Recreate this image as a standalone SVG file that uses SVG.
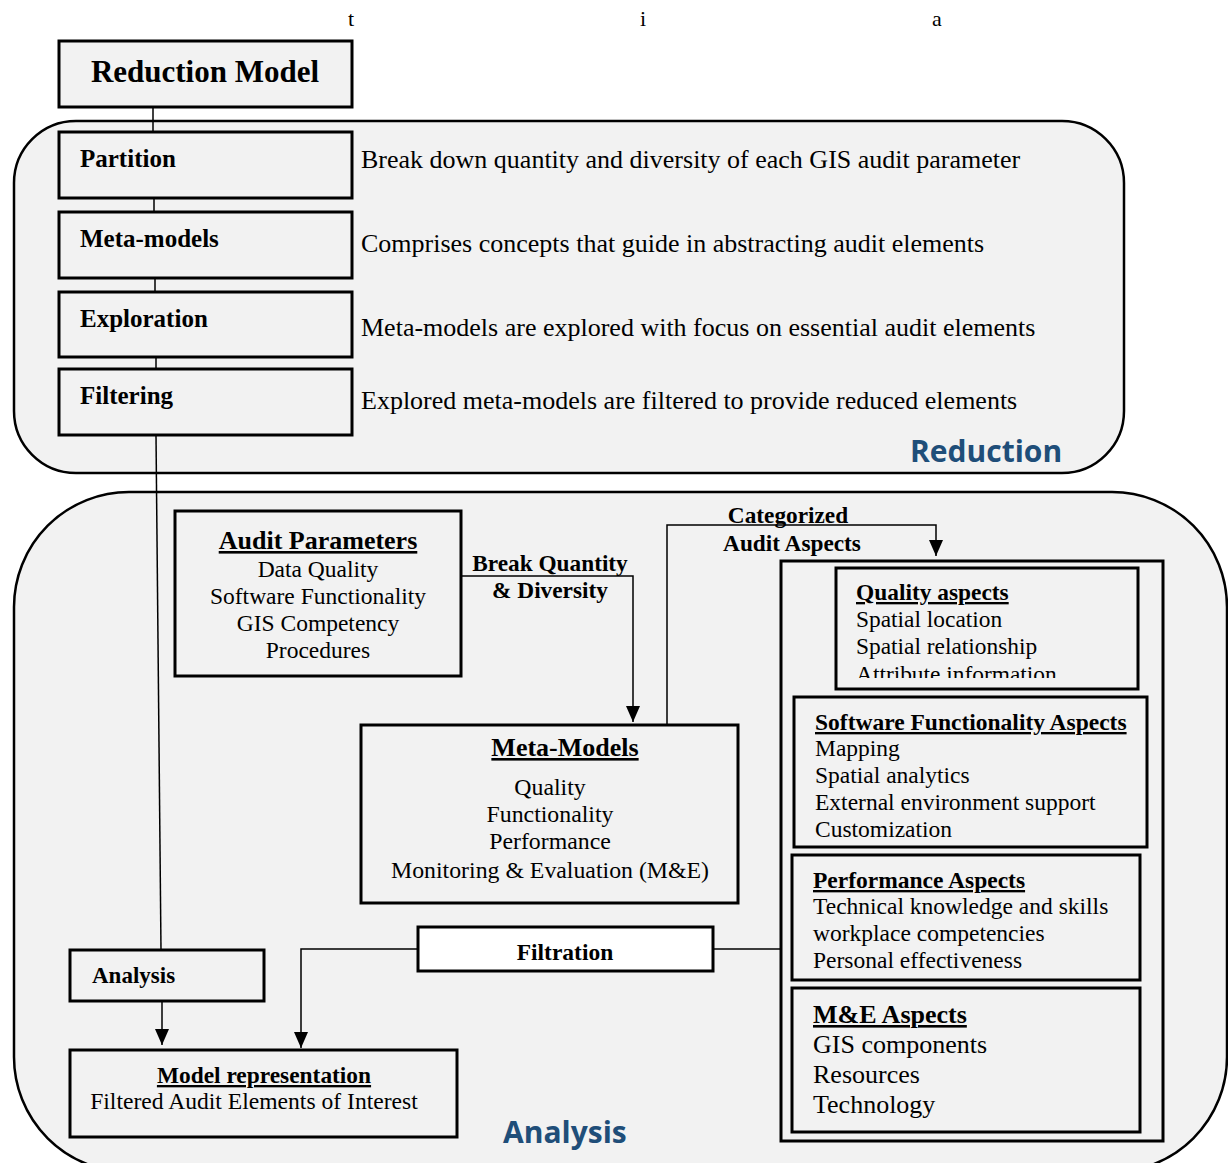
<svg xmlns="http://www.w3.org/2000/svg" width="1228" height="1163" viewBox="0 0 1228 1163">
<style>
.bg{fill:#f2f2f2;stroke:#000;stroke-width:2.5}
.box{fill:#f2f2f2;stroke:#000;stroke-width:3}
.wbox{fill:#fff;stroke:#000;stroke-width:3}
.t{font-family:"Liberation Serif","Times New Roman",serif;fill:#000}
.b{font-weight:bold}
.u{text-decoration:underline}
.c{text-anchor:middle}
.blue{font-family:"Open Sans","Liberation Sans",sans-serif;font-weight:bold;fill:#1f4e79;font-size:30px}
.ln{fill:none;stroke:#000;stroke-width:1.5}
</style>
<defs>
<marker id="ah" markerWidth="16" markerHeight="14" refX="16" refY="7" orient="auto" markerUnits="userSpaceOnUse" viewBox="0 0 16 14">
<path d="M0,0 L16,7 L0,14 Z" fill="#000"/>
</marker>
<clipPath id="qclip"><rect x="836" y="568" width="302" height="110"/></clipPath>
</defs>
<rect width="1228" height="1163" fill="#fff"/>
<g id="stray" class="t" font-size="22">
<text x="348" y="26">t</text>
<text x="640" y="26">i</text>
<text x="932" y="26">a</text>
</g>
<g id="reduction-area">
<rect class="bg" x="14" y="121" width="1110" height="352" rx="62"/>
<text class="blue" x="910" y="462">Reduction</text>
</g>
<g id="analysis-area">
<rect class="bg" x="14" y="492" width="1213" height="680" rx="115"/>
<text class="blue" x="503" y="1143">Analysis</text>
</g>
<g id="connectors">
<line class="ln" x1="153" y1="107" x2="153" y2="132"/>
<line class="ln" x1="154" y1="198" x2="154" y2="212"/>
<line class="ln" x1="155" y1="278" x2="155" y2="292"/>
<line class="ln" x1="156" y1="357" x2="156" y2="369"/>
<line class="ln" x1="156" y1="435" x2="161" y2="950"/>
<line class="ln" x1="162" y1="1001" x2="162" y2="1045" marker-end="url(#ah)"/>
<polyline class="ln" points="461,576 633,576 633,722" marker-end="url(#ah)"/>
<polyline class="ln" points="667,725 667,525 936,525 936,556" marker-end="url(#ah)"/>
<polyline class="ln" points="418,949 301,949 301,1048" marker-end="url(#ah)"/>
<line class="ln" x1="713" y1="949" x2="781" y2="949"/>
</g>
<g id="reduction-model">
<rect class="box" x="59" y="41" width="293" height="66"/>
<text class="t b c" x="205" y="82" font-size="31">Reduction Model</text>
</g>
<g id="partition">
<rect class="box" x="59" y="132" width="293" height="66"/>
<text class="t b" x="80" y="167" font-size="25">Partition</text>
<text class="t" x="361" y="168" font-size="26">Break down quantity and diversity of each GIS audit parameter</text>
</g>
<g id="meta-models">
<rect class="box" x="59" y="212" width="293" height="66"/>
<text class="t b" x="80" y="247" font-size="25">Meta-models</text>
<text class="t" x="361" y="252" font-size="26">Comprises concepts that guide in abstracting audit elements</text>
</g>
<g id="exploration">
<rect class="box" x="59" y="292" width="293" height="65"/>
<text class="t b" x="80" y="327" font-size="25">Exploration</text>
<text class="t" x="361" y="336" font-size="26">Meta-models are explored with focus on essential audit elements</text>
</g>
<g id="filtering">
<rect class="box" x="59" y="369" width="293" height="66"/>
<text class="t b" x="80" y="404" font-size="25">Filtering</text>
<text class="t" x="361" y="409" font-size="26">Explored meta-models are filtered to provide reduced elements</text>
</g>
<g id="audit-parameters">
<rect class="box" x="175" y="511" width="286" height="165"/>
<text class="t b u c" x="318" y="549" font-size="26">Audit Parameters</text>
<text class="t c" x="318" y="577" font-size="23.5">Data Quality</text>
<text class="t c" x="318" y="604" font-size="23.5">Software Functionality</text>
<text class="t c" x="318" y="631" font-size="23.5">GIS Competency</text>
<text class="t c" x="318" y="658" font-size="23.5">Procedures</text>
</g>
<g id="break-label" class="t b c" font-size="23.3">
<text x="550" y="571">Break Quantity</text>
<text x="550" y="598">&amp; Diversity</text>
</g>
<g id="categorized-label" class="t b c" font-size="23.3">
<text x="788" y="523">Categorized</text>
<text x="792" y="551">Audit Aspects</text>
</g>
<g id="meta-models-box">
<rect class="box" x="361" y="725" width="377" height="178"/>
<text class="t b u c" x="565" y="756" font-size="26">Meta-Models</text>
<text class="t c" x="550" y="795" font-size="23.8">Quality</text>
<text class="t c" x="550" y="822" font-size="23.8">Functionality</text>
<text class="t c" x="550" y="849" font-size="23.8">Performance</text>
<text class="t c" x="550" y="878" font-size="23.8">Monitoring &amp; Evaluation (M&amp;E)</text>
</g>
<g id="aspects">
<rect class="box" x="781" y="561" width="382" height="580"/>
</g>
<g id="quality-aspects">
<rect class="box" x="836" y="568" width="302" height="121"/>
<text class="t b u" x="856" y="600" font-size="23.4">Quality aspects</text>
<text class="t" x="856" y="627" font-size="23.4">Spatial location</text>
<text class="t" x="856" y="654" font-size="23.4">Spatial relationship</text>
<text class="t" x="856" y="682" font-size="23.4" clip-path="url(#qclip)">Attribute information</text>
</g>
<g id="software-aspects">
<rect class="box" x="794" y="697" width="353" height="150"/>
<text class="t b u" x="815" y="730" font-size="23.5">Software Functionality Aspects</text>
<text class="t" x="815" y="756" font-size="23.5">Mapping</text>
<text class="t" x="815" y="783" font-size="23.5">Spatial analytics</text>
<text class="t" x="815" y="810" font-size="23.5">External environment support</text>
<text class="t" x="815" y="837" font-size="23.5">Customization</text>
</g>
<g id="performance-aspects">
<rect class="box" x="792" y="855" width="348" height="125"/>
<text class="t b u" x="813" y="888" font-size="23.5">Performance Aspects</text>
<text class="t" x="813" y="914" font-size="23.5">Technical knowledge and skills</text>
<text class="t" x="813" y="941" font-size="23.5">workplace competencies</text>
<text class="t" x="813" y="968" font-size="23.5">Personal effectiveness</text>
</g>
<g id="me-aspects">
<rect class="box" x="792" y="988" width="348" height="144"/>
<text class="t b u" x="813" y="1023" font-size="26">M&amp;E Aspects</text>
<text class="t" x="813" y="1053" font-size="26">GIS components</text>
<text class="t" x="813" y="1083" font-size="26">Resources</text>
<text class="t" x="813" y="1113" font-size="26">Technology</text>
</g>
<g id="filtration">
<rect class="wbox" x="418" y="927" width="295" height="44"/>
<text class="t b c" x="565" y="960" font-size="23.5">Filtration</text>
</g>
<g id="analysis">
<rect class="box" x="70" y="950" width="194" height="51"/>
<text class="t b" x="92" y="983" font-size="23">Analysis</text>
</g>
<g id="model-representation">
<rect class="box" x="70" y="1050" width="387" height="87"/>
<text class="t b u c" x="264" y="1083" font-size="23.4">Model representation</text>
<text class="t c" x="254" y="1109" font-size="23.6">Filtered Audit Elements of Interest</text>
</g>
</svg>
